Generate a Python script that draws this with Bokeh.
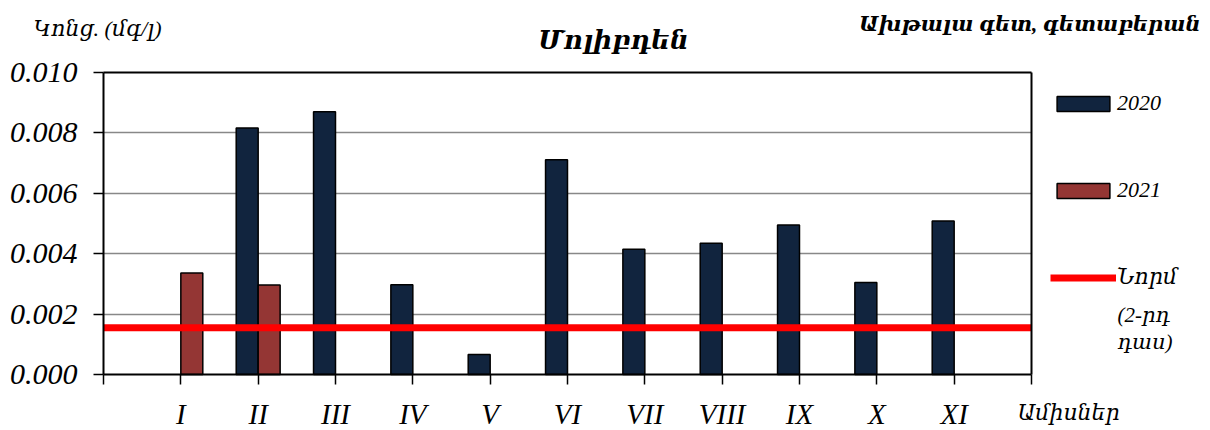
from bokeh.plotting import figure
from bokeh.models import (Range1d, FixedTicker, NumeralTickFormatter, Label,
                          Legend, LegendItem, ColumnDataSource, LinearAxis, Grid)
from bokeh.embed import file_html
from bokeh.resources import INLINE

nan = float("nan")

# ---- data -------------------------------------------------------------
months = ["I", "II", "III", "IV", "V", "VI", "VII", "VIII", "IX", "X", "XI"]
vals_2020 = [nan, 0.00816, 0.00870, 0.00297, 0.00066, 0.00711,
             0.00415, 0.00435, 0.00495, 0.00305, 0.00508]
vals_2021 = [0.00336, 0.00296, nan, nan, nan, nan, nan, nan, nan, nan, nan]
norm_value = 0.00155
y_ticks = [0.000, 0.002, 0.004, 0.006, 0.008, 0.010]

title_text = "Մոլիբդեն"
unit_text = "Կոնց. (մգ/լ)"
river_text = "Ախթալա գետ, գետաբերան"
xaxis_text = "Ամիսներ"
legend_2020 = "2020"
legend_2021 = "2021"
legend_norm = ["Նորմ", "(2-րդ", "դաս)"]

# ---- layout / styling -------------------------------------------------
W, H = 1210, 430
BOX_L, BOX_R, BOX_T, BOX_B = 103, 1031, 72, 374   # plot box in page pixels
FONT = "Liberation Serif, DejaVu Serif"
NAVY = "#11243E"
BROWN = "#943634"
RED = "#FF0000"
BAR_W = 0.284

X_LO, X_HI = 0, len(months) + 1
Y_LO, Y_HI = y_ticks[0], y_ticks[-1]
ppx = (BOX_R - BOX_L) / (X_HI - X_LO)
ppy = (BOX_B - BOX_T) / (Y_HI - Y_LO)
x_range = Range1d(X_LO - BOX_L / ppx, X_HI + (W - BOX_R) / ppx)
y_range = Range1d(Y_LO - (H - BOX_B) / ppy, Y_HI + BOX_T / ppy)

pos = list(range(1, len(months) + 1))
src = ColumnDataSource(dict(
    x20=[p - BAR_W / 2 for p in pos],
    x21=[p + BAR_W / 2 for p in pos],
    v20=vals_2020,
    v21=vals_2021,
))

p = figure(width=W, height=H, output_backend="svg", toolbar_location=None,
           x_range=x_range, y_range=y_range,
           min_border=0, min_border_left=0, min_border_right=0,
           min_border_top=0, min_border_bottom=0)
p.title.visible = False
p.outline_line_color = None
p.background_fill_color = "white"
p.border_fill_color = "white"
p.xgrid.visible = False
p.ygrid.visible = False

# horizontal grid lines inside the plot box
grid_ticks = y_ticks[1:-1]
if "cross_bounds" in Grid.properties():
    g = Grid(dimension=1, ticker=FixedTicker(ticks=grid_ticks),
             bounds=(Y_LO, Y_HI), cross_bounds=(X_LO, X_HI),
             grid_line_color="#888888", grid_line_width=1.5)
    p.add_layout(g)
else:
    p.segment(x0=[X_LO] * len(grid_ticks), x1=[X_HI] * len(grid_ticks),
              y0=grid_ticks, y1=grid_ticks, line_color="#888888", line_width=1.5)

r20 = p.vbar(x="x20", top="v20", width=BAR_W, bottom=0, source=src,
             fill_color=NAVY, line_color="black", line_width=1.5)
r21 = p.vbar(x="x21", top="v21", width=BAR_W, bottom=0, source=src,
             fill_color=BROWN, line_color="black", line_width=1.5)
rn = p.line(x=[X_LO, X_HI], y=[norm_value, norm_value], line_color=RED,
            line_width=7)

# ---- axes ---------------------------------------------------------------
def style_axis(ax):
    ax.axis_line_color = "black"
    ax.axis_line_width = 2
    ax.major_tick_line_color = "black"
    ax.major_tick_line_width = 1.5
    ax.major_tick_in = 0
    ax.minor_tick_in = 0
    ax.minor_tick_out = 0
    ax.major_label_text_font = FONT
    ax.major_label_text_font_style = "italic"
    ax.major_label_text_color = "black"

yax = p.yaxis[0]
style_axis(yax)
yax.fixed_location = X_LO
yax.bounds = (Y_LO, Y_HI)
yax.ticker = FixedTicker(ticks=y_ticks)
yax.formatter = NumeralTickFormatter(format="0.000")
yax.major_tick_out = 10
yax.major_label_standoff = 16
yax.major_label_text_font_size = "30px"

xax = p.xaxis[0]
style_axis(xax)
xax.fixed_location = Y_LO
xax.bounds = (X_LO, X_HI)
xax.ticker = FixedTicker(ticks=list(range(X_LO, X_HI + 1)))
overrides = {X_LO: "", X_HI: ""}
for i, m in zip(pos, months):
    overrides[i] = m
xax.major_label_overrides = overrides
xax.major_tick_out = 10
xax.major_label_standoff = 13
xax.major_label_text_font_size = "29px"

# top and right edges of the plot box
top_ax = LinearAxis(fixed_location=Y_HI, bounds=(X_LO, X_HI),
                    ticker=FixedTicker(ticks=[]))
style_axis(top_ax)
top_ax.major_tick_out = 0
p.add_layout(top_ax, "above")
right_ax = LinearAxis(fixed_location=X_HI, bounds=(Y_LO, Y_HI),
                      ticker=FixedTicker(ticks=[]))
style_axis(right_ax)
right_ax.major_tick_out = 0
p.add_layout(right_ax, "right")

# ---- legend -------------------------------------------------------------
legend = Legend(items=[LegendItem(label=legend_2020, renderers=[r20]),
                       LegendItem(label=legend_2021, renderers=[r21]),
                       LegendItem(label=legend_norm[0], renderers=[rn])],
                location=(1050, H - 290), orientation="vertical",
                glyph_width=66, glyph_height=19, label_height=19,
                label_standoff=1, spacing=61, padding=0, margin=0,
                border_line_color=None, background_fill_alpha=0,
                label_text_font=FONT, label_text_font_style="italic",
                label_text_font_size="22px", label_text_color="black")
p.add_layout(legend)

# ---- free texts (screen px: x from left, y from bottom) -----------------
def add_label(text, x, y, size, style="italic", align="left"):
    p.add_layout(Label(x=x, y=H - y, x_units="screen", y_units="screen",
                       text=text, text_font=FONT, text_font_style=style,
                       text_font_size=size, text_align=align,
                       text_baseline="middle", text_color="black"))

add_label(unit_text, 33, 28, "22px")
add_label(title_text, 613, 40, "26px", style="bold italic", align="center")
add_label(river_text, 1200, 23, "21px", style="bold italic", align="right")
add_label(xaxis_text, 1017, 412, "22px")
add_label(legend_norm[1], 1117, 314, "21px")
add_label(legend_norm[2], 1117, 341, "21px")

open("out.html", "w").write(file_html(p, INLINE))
